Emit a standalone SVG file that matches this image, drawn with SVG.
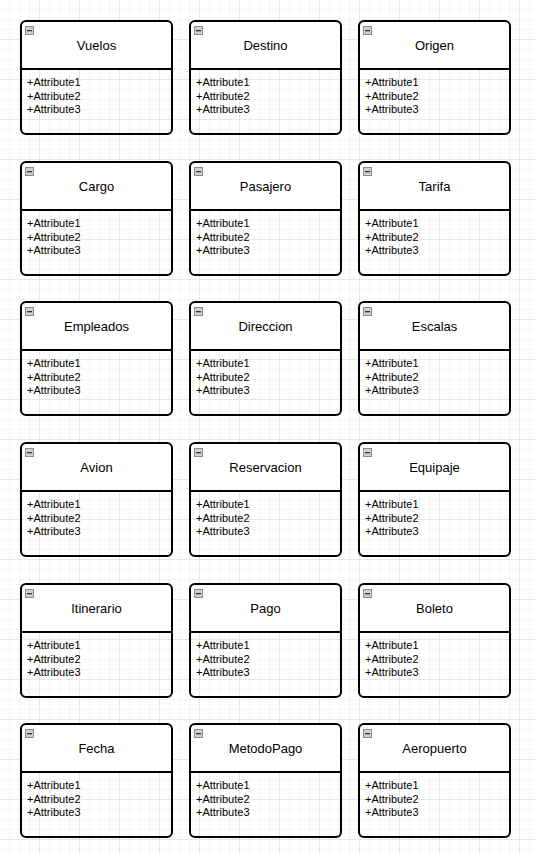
<svg xmlns="http://www.w3.org/2000/svg" width="537" height="854" viewBox="0 0 537 854">
<defs>
<pattern id="minor" width="10" height="10" patternUnits="userSpaceOnUse" x="0" y="0">
<path d="M10 0V10M0 10H10" fill="none" stroke="#ebebeb" stroke-width="1"/>
</pattern>
<pattern id="major" width="40" height="40" patternUnits="userSpaceOnUse" x="0" y="0">
<rect width="40" height="40" fill="url(#minor)"/>
<path d="M40 0V40M0 40H40" fill="none" stroke="#dcdcdc" stroke-width="1"/>
</pattern>
<g id="icon">
<rect x="0.5" y="0.5" width="8" height="8" fill="#d0d0d0" stroke="#8a8a8a" stroke-width="1"/>
<rect x="2" y="4" width="5" height="1.3" fill="#333"/>
</g>
</defs>
<style>
.box{fill:none;stroke:#000;stroke-width:2}
.hdr{fill:#fff}
.div{stroke:#000;stroke-width:2}
.t{font-family:"Liberation Sans",Arial,sans-serif;font-size:13px;fill:#000;text-anchor:middle}
.a{font-family:"Liberation Sans",Arial,sans-serif;font-size:11px;fill:#000}
</style>
<rect width="537" height="854" fill="#fff"/>
<rect width="537" height="854" fill="url(#major)"/>
<g id="connectors"/>
<g id="nodes">
<g id="n-vuelos" transform="translate(21,21)"><path class="hdr" d="M5 0H146A5 5 0 0 1 151 5V48H0V5A5 5 0 0 1 5 0Z"/><use href="#icon" x="4" y="5"/><text class="t" x="75.5" y="29">Vuelos</text><line class="div" x1="0" y1="48" x2="151" y2="48"/><text class="a" x="6" y="65">+Attribute1</text><text class="a" x="6" y="79">+Attribute2</text><text class="a" x="6" y="92">+Attribute3</text><rect class="box" width="151" height="113" rx="5"/></g>
<g id="n-destino" transform="translate(190,21)"><path class="hdr" d="M5 0H146A5 5 0 0 1 151 5V48H0V5A5 5 0 0 1 5 0Z"/><use href="#icon" x="4" y="5"/><text class="t" x="75.5" y="29">Destino</text><line class="div" x1="0" y1="48" x2="151" y2="48"/><text class="a" x="6" y="65">+Attribute1</text><text class="a" x="6" y="79">+Attribute2</text><text class="a" x="6" y="92">+Attribute3</text><rect class="box" width="151" height="113" rx="5"/></g>
<g id="n-origen" transform="translate(359,21)"><path class="hdr" d="M5 0H146A5 5 0 0 1 151 5V48H0V5A5 5 0 0 1 5 0Z"/><use href="#icon" x="4" y="5"/><text class="t" x="75.5" y="29">Origen</text><line class="div" x1="0" y1="48" x2="151" y2="48"/><text class="a" x="6" y="65">+Attribute1</text><text class="a" x="6" y="79">+Attribute2</text><text class="a" x="6" y="92">+Attribute3</text><rect class="box" width="151" height="113" rx="5"/></g>

<g id="n-cargo" transform="translate(21,162)"><path class="hdr" d="M5 0H146A5 5 0 0 1 151 5V48H0V5A5 5 0 0 1 5 0Z"/><use href="#icon" x="4" y="5"/><text class="t" x="75.5" y="29">Cargo</text><line class="div" x1="0" y1="48" x2="151" y2="48"/><text class="a" x="6" y="65">+Attribute1</text><text class="a" x="6" y="79">+Attribute2</text><text class="a" x="6" y="92">+Attribute3</text><rect class="box" width="151" height="113" rx="5"/></g>
<g id="n-pasajero" transform="translate(190,162)"><path class="hdr" d="M5 0H146A5 5 0 0 1 151 5V48H0V5A5 5 0 0 1 5 0Z"/><use href="#icon" x="4" y="5"/><text class="t" x="75.5" y="29">Pasajero</text><line class="div" x1="0" y1="48" x2="151" y2="48"/><text class="a" x="6" y="65">+Attribute1</text><text class="a" x="6" y="79">+Attribute2</text><text class="a" x="6" y="92">+Attribute3</text><rect class="box" width="151" height="113" rx="5"/></g>
<g id="n-tarifa" transform="translate(359,162)"><path class="hdr" d="M5 0H146A5 5 0 0 1 151 5V48H0V5A5 5 0 0 1 5 0Z"/><use href="#icon" x="4" y="5"/><text class="t" x="75.5" y="29">Tarifa</text><line class="div" x1="0" y1="48" x2="151" y2="48"/><text class="a" x="6" y="65">+Attribute1</text><text class="a" x="6" y="79">+Attribute2</text><text class="a" x="6" y="92">+Attribute3</text><rect class="box" width="151" height="113" rx="5"/></g>

<g id="n-empleados" transform="translate(21,302)"><path class="hdr" d="M5 0H146A5 5 0 0 1 151 5V48H0V5A5 5 0 0 1 5 0Z"/><use href="#icon" x="4" y="5"/><text class="t" x="75.5" y="29">Empleados</text><line class="div" x1="0" y1="48" x2="151" y2="48"/><text class="a" x="6" y="65">+Attribute1</text><text class="a" x="6" y="79">+Attribute2</text><text class="a" x="6" y="92">+Attribute3</text><rect class="box" width="151" height="113" rx="5"/></g>
<g id="n-direccion" transform="translate(190,302)"><path class="hdr" d="M5 0H146A5 5 0 0 1 151 5V48H0V5A5 5 0 0 1 5 0Z"/><use href="#icon" x="4" y="5"/><text class="t" x="75.5" y="29">Direccion</text><line class="div" x1="0" y1="48" x2="151" y2="48"/><text class="a" x="6" y="65">+Attribute1</text><text class="a" x="6" y="79">+Attribute2</text><text class="a" x="6" y="92">+Attribute3</text><rect class="box" width="151" height="113" rx="5"/></g>
<g id="n-escalas" transform="translate(359,302)"><path class="hdr" d="M5 0H146A5 5 0 0 1 151 5V48H0V5A5 5 0 0 1 5 0Z"/><use href="#icon" x="4" y="5"/><text class="t" x="75.5" y="29">Escalas</text><line class="div" x1="0" y1="48" x2="151" y2="48"/><text class="a" x="6" y="65">+Attribute1</text><text class="a" x="6" y="79">+Attribute2</text><text class="a" x="6" y="92">+Attribute3</text><rect class="box" width="151" height="113" rx="5"/></g>

<g id="n-avion" transform="translate(21,443)"><path class="hdr" d="M5 0H146A5 5 0 0 1 151 5V48H0V5A5 5 0 0 1 5 0Z"/><use href="#icon" x="4" y="5"/><text class="t" x="75.5" y="29">Avion</text><line class="div" x1="0" y1="48" x2="151" y2="48"/><text class="a" x="6" y="65">+Attribute1</text><text class="a" x="6" y="79">+Attribute2</text><text class="a" x="6" y="92">+Attribute3</text><rect class="box" width="151" height="113" rx="5"/></g>
<g id="n-reservacion" transform="translate(190,443)"><path class="hdr" d="M5 0H146A5 5 0 0 1 151 5V48H0V5A5 5 0 0 1 5 0Z"/><use href="#icon" x="4" y="5"/><text class="t" x="75.5" y="29">Reservacion</text><line class="div" x1="0" y1="48" x2="151" y2="48"/><text class="a" x="6" y="65">+Attribute1</text><text class="a" x="6" y="79">+Attribute2</text><text class="a" x="6" y="92">+Attribute3</text><rect class="box" width="151" height="113" rx="5"/></g>
<g id="n-equipaje" transform="translate(359,443)"><path class="hdr" d="M5 0H146A5 5 0 0 1 151 5V48H0V5A5 5 0 0 1 5 0Z"/><use href="#icon" x="4" y="5"/><text class="t" x="75.5" y="29">Equipaje</text><line class="div" x1="0" y1="48" x2="151" y2="48"/><text class="a" x="6" y="65">+Attribute1</text><text class="a" x="6" y="79">+Attribute2</text><text class="a" x="6" y="92">+Attribute3</text><rect class="box" width="151" height="113" rx="5"/></g>

<g id="n-itinerario" transform="translate(21,584)"><path class="hdr" d="M5 0H146A5 5 0 0 1 151 5V48H0V5A5 5 0 0 1 5 0Z"/><use href="#icon" x="4" y="5"/><text class="t" x="75.5" y="29">Itinerario</text><line class="div" x1="0" y1="48" x2="151" y2="48"/><text class="a" x="6" y="65">+Attribute1</text><text class="a" x="6" y="79">+Attribute2</text><text class="a" x="6" y="92">+Attribute3</text><rect class="box" width="151" height="113" rx="5"/></g>
<g id="n-pago" transform="translate(190,584)"><path class="hdr" d="M5 0H146A5 5 0 0 1 151 5V48H0V5A5 5 0 0 1 5 0Z"/><use href="#icon" x="4" y="5"/><text class="t" x="75.5" y="29">Pago</text><line class="div" x1="0" y1="48" x2="151" y2="48"/><text class="a" x="6" y="65">+Attribute1</text><text class="a" x="6" y="79">+Attribute2</text><text class="a" x="6" y="92">+Attribute3</text><rect class="box" width="151" height="113" rx="5"/></g>
<g id="n-boleto" transform="translate(359,584)"><path class="hdr" d="M5 0H146A5 5 0 0 1 151 5V48H0V5A5 5 0 0 1 5 0Z"/><use href="#icon" x="4" y="5"/><text class="t" x="75.5" y="29">Boleto</text><line class="div" x1="0" y1="48" x2="151" y2="48"/><text class="a" x="6" y="65">+Attribute1</text><text class="a" x="6" y="79">+Attribute2</text><text class="a" x="6" y="92">+Attribute3</text><rect class="box" width="151" height="113" rx="5"/></g>

<g id="n-fecha" transform="translate(21,724)"><path class="hdr" d="M5 0H146A5 5 0 0 1 151 5V48H0V5A5 5 0 0 1 5 0Z"/><use href="#icon" x="4" y="5"/><text class="t" x="75.5" y="29">Fecha</text><line class="div" x1="0" y1="48" x2="151" y2="48"/><text class="a" x="6" y="65">+Attribute1</text><text class="a" x="6" y="79">+Attribute2</text><text class="a" x="6" y="92">+Attribute3</text><rect class="box" width="151" height="113" rx="5"/></g>
<g id="n-metodopago" transform="translate(190,724)"><path class="hdr" d="M5 0H146A5 5 0 0 1 151 5V48H0V5A5 5 0 0 1 5 0Z"/><use href="#icon" x="4" y="5"/><text class="t" x="75.5" y="29">MetodoPago</text><line class="div" x1="0" y1="48" x2="151" y2="48"/><text class="a" x="6" y="65">+Attribute1</text><text class="a" x="6" y="79">+Attribute2</text><text class="a" x="6" y="92">+Attribute3</text><rect class="box" width="151" height="113" rx="5"/></g>
<g id="n-aeropuerto" transform="translate(359,724)"><path class="hdr" d="M5 0H146A5 5 0 0 1 151 5V48H0V5A5 5 0 0 1 5 0Z"/><use href="#icon" x="4" y="5"/><text class="t" x="75.5" y="29">Aeropuerto</text><line class="div" x1="0" y1="48" x2="151" y2="48"/><text class="a" x="6" y="65">+Attribute1</text><text class="a" x="6" y="79">+Attribute2</text><text class="a" x="6" y="92">+Attribute3</text><rect class="box" width="151" height="113" rx="5"/></g>
</g>
</svg>
